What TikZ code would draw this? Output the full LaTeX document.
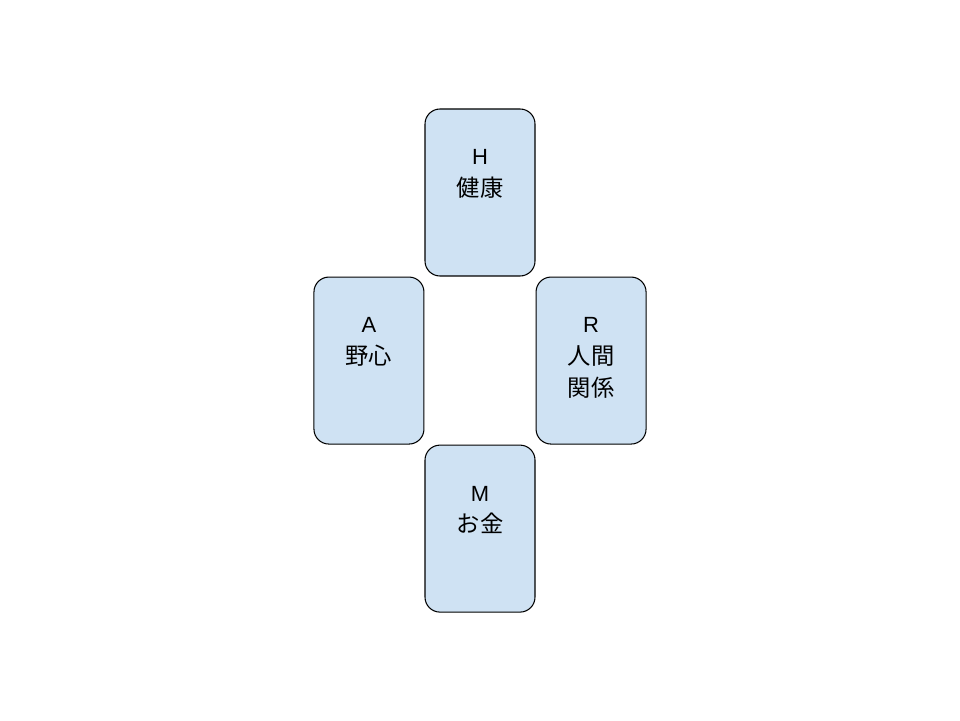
\documentclass[tikz,border=0pt]{standalone}
\usepackage{fontspec}
\setmainfont{Liberation Sans}
\newfontfamily\jp[Scale=1.06]{Noto Sans CJK JP}
\usetikzlibrary{positioning}
\definecolor{cardblue}{HTML}{CFE2F3}
\tikzset{
  card/.style={draw, fill=cardblue, rounded corners=0.3cm, line width=0.6pt, minimum width=2.2cm, minimum height=3.34cm, inner sep=0pt},
  cardtext/.style={anchor=north, align=center, inner sep=0pt, font=\fontsize{12.5}{18}\selectfont, yshift=-0.82cm}
}
\begin{document}
\begin{tikzpicture}
\useasboundingbox (0,0) rectangle (19.2,14.4);
% Cards
\node[card] (health) at (9.6,10.55) {};
\node[card, below left=0pt and 0pt of health] (ambition) {};
\node[card, below right=0pt and 0pt of health] (relation) {};
\node[card, below right=0pt and 0pt of ambition] (money) {};

% Labels
\node[cardtext] (health-text) at (health.north) {H\\{\jp 健康}};
\node[cardtext] (ambition-text) at (ambition.north) {A\\{\jp 野心}};
\node[cardtext] (relation-text) at (relation.north) {R\\{\jp 人間}\\{\jp 関係}};
\node[cardtext] (money-text) at (money.north) {M\\{\jp お金}};
\end{tikzpicture}
\end{document}
